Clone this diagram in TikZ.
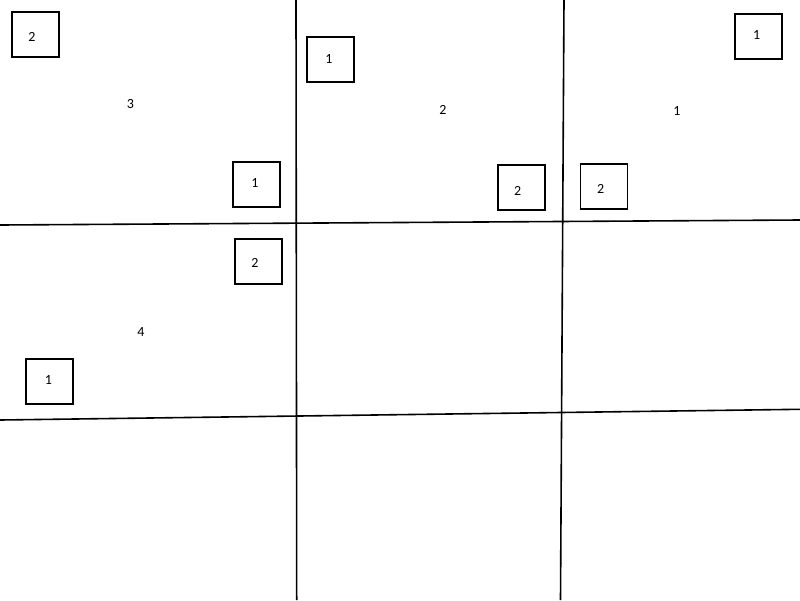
\documentclass[tikz,border=0pt]{standalone}
\usepackage{fontspec}
\setmainfont{Carlito}
\begin{document}
\begin{tikzpicture}[x=1pt,y=-1pt,
  gridline/.style={line width=1.6pt,black},
  numbox/.style={draw,line width=1.8pt,minimum width=47pt,minimum height=45pt,inner sep=0pt},
  freetext/.style={inner sep=0pt,font=\fontsize{14}{16}\selectfont}]
\useasboundingbox (0,0) rectangle (800,600);
% grid lines
\coordinate (v1t) at (296,0); \coordinate (v1b) at (296.7,600);
\coordinate (v2t) at (564,0); \coordinate (v2b) at (560.5,600);
\coordinate (h1l) at (0,225); \coordinate (h1r) at (800,220);
\coordinate (h2l) at (0,420); \coordinate (h2r) at (800,409.3);
\draw[gridline] (v1t) -- (v1b);
\draw[gridline] (v2t) -- (v2b);
\draw[gridline] (h1l) -- (h1r);
\draw[gridline] (h2l) -- (h2r);
% boxes
\node[numbox] (b1) at (35.3,34.3) {};
\node[numbox] (b2) at (330.3,59.8) {};
\node[numbox] (b3) at (758.3,36.5) {};
\node[numbox] (b4) at (256.3,184.3) {};
\node[numbox] (b5) at (521.3,187.3) {};
\node[numbox] (b6) at (604,186.7) {};
\node[numbox] (b7) at (258.5,261.5) {};
\node[numbox] (b8) at (49.3,381.2) {};
% box labels
\node[freetext] (l1) at (32,37.3) {2};
\node[freetext] (l2) at (329,59.3) {1};
\node[freetext] (l3) at (756.7,34.7) {1};
\node[freetext] (l4) at (255,183.3) {1};
\node[freetext] (l5) at (517.7,190.7) {2};
\node[freetext] (l6) at (600.7,189.3) {2};
\node[freetext] (l7) at (255,263.3) {2};
\node[freetext] (l8) at (48.3,380) {1};
% free labels
\node[freetext] (t1) at (130.5,104) {3};
\node[freetext] (t2) at (443,110) {2};
\node[freetext] (t3) at (677,111) {1};
\node[freetext] (t4) at (141,332) {4};
\end{tikzpicture}
\end{document}
